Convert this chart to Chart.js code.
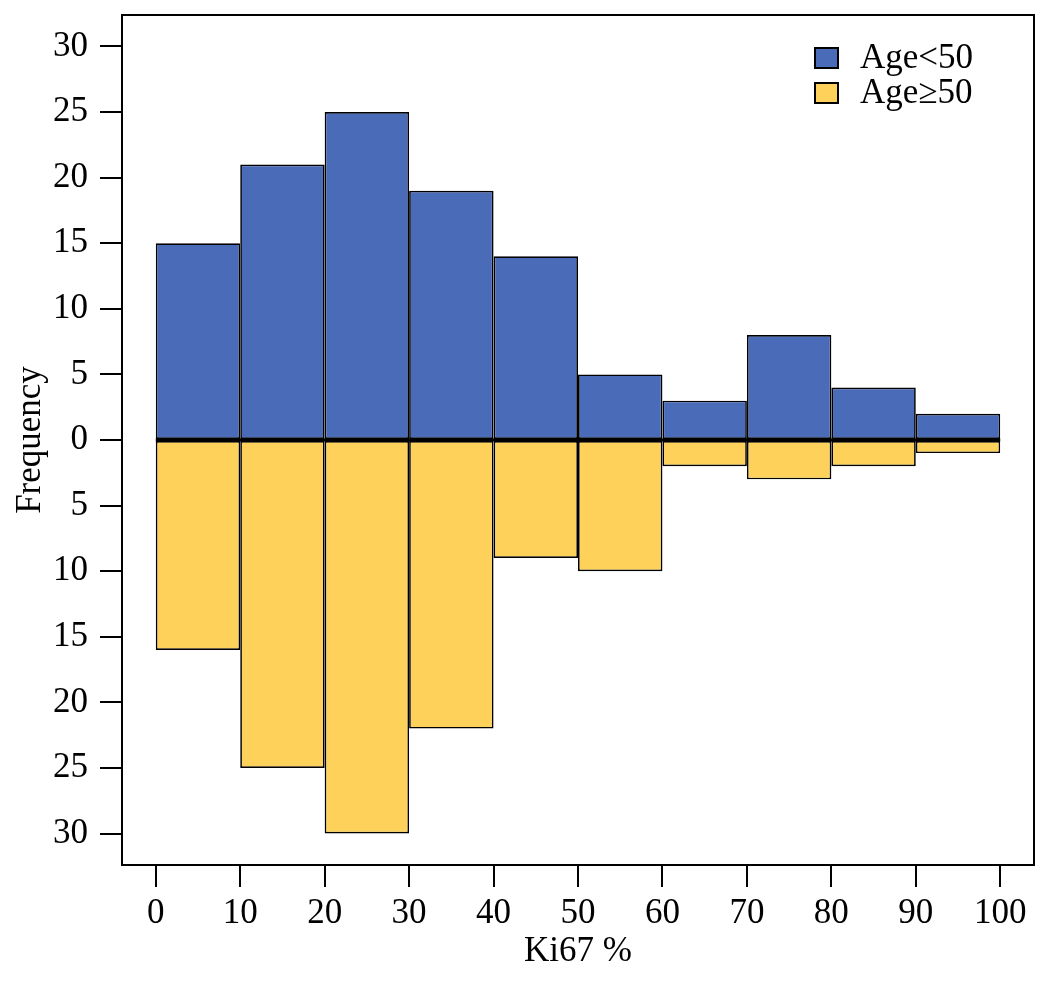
<!DOCTYPE html>
<html>
<head>
<meta charset="utf-8">
<script src="https://cdn.jsdelivr.net/npm/chart.js@4"></script>
<style>
  html, body { margin: 0; padding: 0; background: #fff; }
  #wrap { width: 1050px; height: 982px; }
</style>
</head>
<body>
<div id="wrap"><canvas id="histo"></canvas></div>
<script>
// Ki67 % bins (edges), counts per age group
var binEdges = [0, 10, 20, 30, 40, 50, 60, 70, 80, 90, 100];
var under50 = [15, 21, 25, 19, 14, 5, 3, 8, 4, 2];
var over50 = [16, 25, 30, 22, 9, 10, 2, 3, 2, 1];
var xTicks = [0, 10, 20, 30, 40, 50, 60, 70, 80, 90, 100];
var yTicks = [-30, -25, -20, -15, -10, -5, 0, 5, 10, 15, 20, 25, 30];
var seriesNames = ['Age<50', 'Age\u226550'];

var FONT = "'Liberation Serif', 'Times New Roman', serif";

function toPoints(counts, sign) {
    return counts.map(function (c, i) {
        return { x: (binEdges[i] + binEdges[i + 1]) / 2, y: sign * c };
    });
}

// full box round the plot + the shared baseline between the two halves
var boxPlugin = {
    id: 'box',
    afterDraw: function (chart) {
        var a = chart.chartArea, ctx = chart.ctx;
        var xs = chart.scales.x, ys = chart.scales.y;
        ctx.save();
        ctx.strokeStyle = '#000';
        ctx.lineWidth = 2;
        ctx.strokeRect(a.left, a.top, a.right - a.left, a.bottom - a.top);
        var y0 = ys.getPixelForValue(0);
        ctx.lineWidth = 3;
        ctx.beginPath();
        ctx.moveTo(xs.getPixelForValue(binEdges[0]), y0);
        ctx.lineTo(xs.getPixelForValue(binEdges[binEdges.length - 1]), y0);
        ctx.stroke();
        ctx.restore();
    }
};

// legend in the top right corner, R style
var legendPlugin = {
    id: 'cornerLegend',
    afterDraw: function (chart) {
        var a = chart.chartArea, ctx = chart.ctx;
        ctx.save();
        ctx.font = '35px ' + FONT;
        ctx.textBaseline = 'middle';
        ctx.textAlign = 'left';
        chart.data.datasets.forEach(function (ds, i) {
            var bx = a.right - 219, by = a.top + 33 + i * 35;
            ctx.fillStyle = ds.backgroundColor;
            ctx.fillRect(bx, by, 23, 20);
            ctx.strokeStyle = '#000';
            ctx.lineWidth = 2;
            ctx.strokeRect(bx, by, 23, 20);
            ctx.fillStyle = '#000';
            ctx.fillText(ds.label, bx + 45, by + 11);
        });
        ctx.restore();
    }
};

var ctx = document.getElementById('histo').getContext('2d');
new Chart(ctx, {
    type: 'bar',
    data: {
        datasets: [
            {
                label: seriesNames[0],
                data: toPoints(under50, 1),
                backgroundColor: '#4a6bb7',
                borderColor: '#000',
                borderWidth: 1.7,
                borderSkipped: false,
                inflateAmount: 0,
                grouped: false,
                barPercentage: 1,
                categoryPercentage: 1
            },
            {
                label: seriesNames[1],
                data: toPoints(over50, -1),
                backgroundColor: '#fed15b',
                borderColor: '#000',
                borderWidth: 1.7,
                borderSkipped: false,
                inflateAmount: 0,
                grouped: false,
                barPercentage: 1,
                categoryPercentage: 1
            }
        ]
    },
    options: {
        responsive: true,
        maintainAspectRatio: false,
        animation: false,
        layout: { padding: { top: 15, right: 16, left: 0, bottom: 0 } },
        plugins: {
            legend: { display: false },
            tooltip: { enabled: false }
        },
        scales: {
            x: {
                type: 'linear',
                min: -4,
                max: 104,
                offset: false,
                afterBuildTicks: function (scale) {
                    scale.ticks = xTicks.map(function (v) { return { value: v }; });
                },
                afterFit: function (scale) {
                    scale.height = 117;
                    scale.paddingLeft = 0;
                    scale.paddingRight = 0;
                },
                grid: { offset: false, drawOnChartArea: false, drawTicks: true, tickLength: 22, color: '#000', lineWidth: 2 },
                border: { display: true, color: '#000', width: 2 },
                ticks: { color: '#000', padding: 6, maxRotation: 0, autoSkip: false, font: { family: FONT, size: 35 } },
                title: { display: true, text: 'Ki67 %', color: '#000', padding: { top: 0, bottom: 9 }, font: { family: FONT, size: 35 } }
            },
            y: {
                min: -32.4,
                max: 32.4,
                afterBuildTicks: function (scale) {
                    scale.ticks = yTicks.map(function (v) { return { value: v }; });
                },
                afterFit: function (scale) {
                    scale.width = 122;
                    scale.paddingTop = 0;
                    scale.paddingBottom = 0;
                },
                grid: { drawOnChartArea: false, drawTicks: true, tickLength: 22, color: '#000', lineWidth: 2 },
                border: { display: true, color: '#000', width: 2 },
                ticks: {
                    color: '#000',
                    padding: 12,
                    autoSkip: false,
                    font: { family: FONT, size: 35 },
                    callback: function (v) { return String(Math.abs(v)); }
                },
                title: { display: true, text: 'Frequency', color: '#000', padding: { top: 10, bottom: 0 }, font: { family: FONT, size: 35 } }
            }
        }
    },
    plugins: [boxPlugin, legendPlugin]
});
</script>
</body>
</html>
